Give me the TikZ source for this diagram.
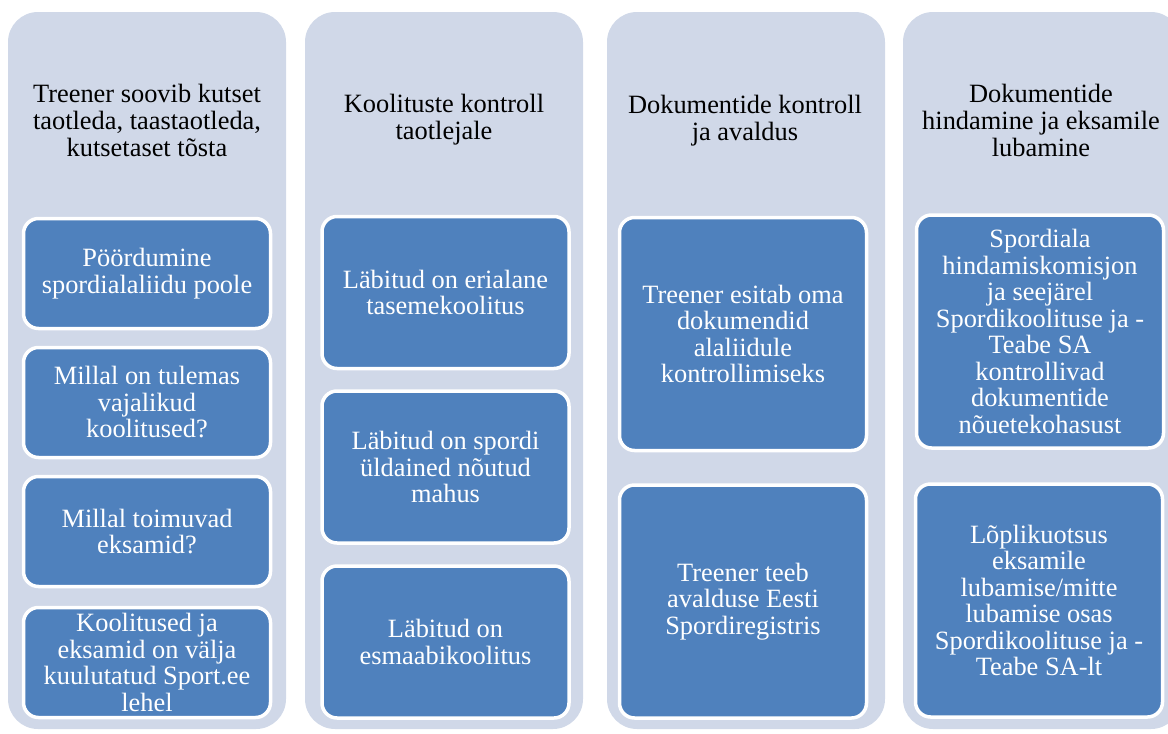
\documentclass[tikz,border=0pt]{standalone}
\usepackage{fontspec}
\setmainfont{Liberation Serif}
\newfontfamily\stepFont{Liberation Serif}
\definecolor{columnGrey}{HTML}{D0D8E8}
\definecolor{boxBlue}{HTML}{4F81BD}
\newcommand\columnWidth{278}

\begin{document}
\begin{tikzpicture}[x=1pt, y=-1pt,
    column/.style={fill=columnGrey, rounded corners=30pt},
    heading/.style={align=center, font=\stepFont\fontsize{26.4}{27}\selectfont},
    stepbox/.style={rectangle, rounded corners=15pt, fill=boxBlue, draw=white, line width=3.5pt,
        text=white, align=center, minimum width=247pt, inner sep=0pt, font=\stepFont\fontsize{26.4}{26.5}\selectfont}]
    \useasboundingbox (0,0) rectangle (1168,734);
    \clip (0,0) rectangle (1168,734);
    % Draw the column backgrounds
    \foreach \x in {8, 305, 607, 903}
        \fill [column] (\x,12) rectangle (\x+\columnWidth,729);
    % Draw the column headings
    \node [heading] (headOne) at (147,120) {Treener soovib kutset\\taotleda, taastaotleda,\\kutsetaset tõsta};
    \node [heading] (headTwo) at (444,120) {Koolituste kontroll\\taotlejale};
    \node [heading] (headThree) at (745,121) {Dokumentide kontroll\\ja avaldus};
    \node [heading] (headFour) at (1041,120) {Dokumentide\\hindamine ja eksamile\\lubamine};
    % First column
    \foreach \y/\n/\t in {273.5/a/{Pöördumine\\spordialaliidu poole}, 402.5/b/{Millal on tulemas\\vajalikud\\koolitused?},%
    531.5/c/{Millal toimuvad\\eksamid?}, 662.5/d/{Koolitused ja\\eksamid on välja\\kuulutatud Sport.ee\\lehel}}
        \node [stepbox, minimum height=110pt] (one\n) at (147,\y) {\t};
    % Second column
    \foreach \y/\n/\t in {292.5/a/{Läbitud on erialane\\tasemekoolitus}, 467/b/{Läbitud on spordi\\üldained nõutud\\mahus},%
    642/c/{Läbitud on\\esmaabikoolitus}}
        \node [stepbox, minimum height=152pt] (two\n) at (445.5,\y) {\t};
    % Third column
    \node [stepbox, minimum height=233pt] (threea) at (743,334) {Treener esitab oma\\dokumendid\\alaliidule\\kontrollimiseks};
    \node [stepbox, minimum height=233pt] (threeb) at (743,601.5) {Treener teeb\\avalduse Eesti\\Spordiregistris};
    % Fourth column
    \node [stepbox, minimum height=233pt] (foura) at (1040,331.5) {Spordiala\\hindamiskomisjon\\ja seejärel\\Spordikoolituse ja -\\Teabe SA\\kontrollivad\\dokumentide\\nõuetekohasust};
    \node [stepbox, minimum height=233pt] (fourb) at (1039,600.5) {Lõplikuotsus\\eksamile\\lubamise/mitte\\lubamise osas\\Spordikoolituse ja -\\Teabe SA-lt};
\end{tikzpicture}
\end{document}
